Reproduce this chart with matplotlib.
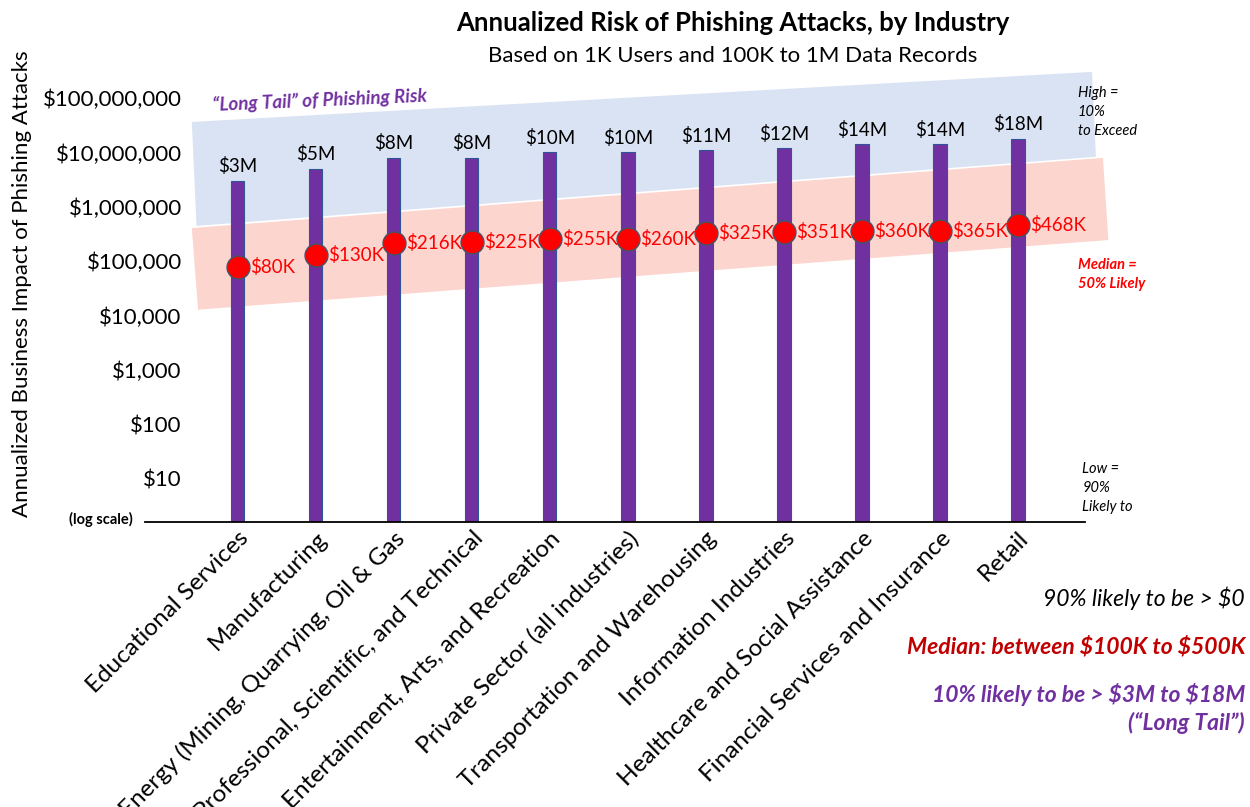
import numpy as np
import matplotlib.pyplot as plt
from matplotlib.patches import Polygon

plt.rcParams['font.family'] = ['Lato', 'DejaVu Sans']

industries = [
    'Educational Services',
    'Manufacturing',
    'Energy (Mining, Quarrying, Oil & Gas',
    'Professional, Scientific, and Technical',
    'Entertainment, Arts, and Recreation',
    'Private Sector (all industries)',
    'Transportation and Warehousing',
    'Information Industries',
    'Healthcare and Social Assistance',
    'Financial Services and Insurance',
    'Retail',
]
high_10pct = [3e6, 5e6, 8e6, 8e6, 10e6, 10e6, 11e6, 12e6, 14e6, 14e6, 18e6]
median_50pct = [80e3, 130e3, 216e3, 225e3, 255e3, 260e3, 325e3, 351e3, 360e3, 365e3, 468e3]
ytick_values = [10, 100, 1e3, 1e4, 1e5, 1e6, 1e7, 1e8]

PURPLE = '#7030A0'
RED = '#FF0000'
DARK_RED = '#C00000'


def fmt_money(v):
    if v >= 1e6:
        return '${:.0f}M'.format(v / 1e6)
    return '${:.0f}K'.format(v / 1e3)


fig = plt.figure(figsize=(12.5, 8.07), dpi=100)
ax = fig.add_axes([0.116, 0.3532, 0.752, 0.5725])
x = np.arange(len(industries))

ax.set_yscale('log')
ax.set_xlim(-1.19, 10.86)
ax.set_ylim(1.62, 5e8)

# shaded bands behind the bars (high tail and median zone)
blue_band = Polygon([(-0.59, 10**7.56), (10.95, 10**8.48), (11.0, 10**6.92), (-0.53, 10**5.65)],
                    closed=True, facecolor='#DAE3F3', edgecolor='none', zorder=0, clip_on=False)
pink_band = Polygon([(-0.59, 10**5.61), (11.09, 10**6.90), (11.16, 10**5.39), (-0.51, 10**4.11)],
                    closed=True, facecolor='#FCD5CE', edgecolor='none', zorder=0, clip_on=False)
ax.add_patch(blue_band)
ax.add_patch(pink_band)

ax.bar(x, high_10pct, width=0.17, log=True, color=PURPLE, edgecolor='#2F5597',
       linewidth=0.8, zorder=2)
ax.plot(x, median_50pct, 'o', markersize=16.5, color=RED, markeredgecolor='#44546A',
        markeredgewidth=1.0, zorder=3)

for xi, hv, mv in zip(x, high_10pct, median_50pct):
    ax.annotate(fmt_money(hv), (xi, hv), xytext=(0, 4), textcoords='offset points',
                ha='center', va='bottom', fontsize=13.5, color='black', parse_math=False)
    ax.annotate(fmt_money(mv), (xi, mv), xytext=(9, 0), textcoords='offset points',
                ha='left', va='center', fontsize=13.5, color=RED, parse_math=False)

ax.set_yticks(ytick_values)
ax.set_yticklabels(['${:,.0f}'.format(v) for v in ytick_values], fontsize=16)
ax.yaxis.set_minor_locator(plt.NullLocator())
ax.set_xticks(x)
ax.set_xticklabels(industries, rotation=45, ha='right', rotation_mode='anchor', fontsize=17.5)
ax.tick_params(axis='both', length=0)
ax.tick_params(axis='x', pad=4)
# labels sit over the left end of the axis line
ax.tick_params(axis='y', pad=-26.5)
for side in ['top', 'right', 'left']:
    ax.spines[side].set_visible(False)
ax.spines['bottom'].set_linewidth(1.3)

fig.text(0.018, 0.648, 'Annualized Business Impact of Phishing Attacks', rotation=90,
         ha='center', va='center', fontsize=16)

fig.text(0.586, 0.972, 'Annualized Risk of Phishing Attacks, by Industry',
         ha='center', va='center', fontsize=18.5, fontweight='bold')
fig.text(0.586, 0.930, 'Based on 1K Users and 100K to 1M Data Records',
         ha='center', va='center', fontsize=16)

fig.text(0.081, 0.356, '(log scale)', ha='center', va='center', fontsize=10.5, fontweight='bold')
fig.text(0.256, 0.876, '\u201cLong Tail\u201d of Phishing Risk', ha='center', va='center',
         fontsize=13.5, fontweight='bold', style='italic', color=PURPLE, rotation=2.5)

fig.text(0.862, 0.861, 'High =\n10%\nto Exceed', ha='left', va='center', fontsize=10.5,
         style='italic', linespacing=1.45)
fig.text(0.862, 0.660, 'Median =\n50% Likely', ha='left', va='center', fontsize=10.5,
         style='italic', fontweight='bold', color=RED, linespacing=1.45)
fig.text(0.866, 0.395, 'Low =\n90%\nLikely to', ha='left', va='center', fontsize=10.5,
         style='italic', linespacing=1.45)

fig.text(0.996, 0.259, '90% likely to be > $0', ha='right', va='center', fontsize=16.5,
         style='italic', parse_math=False)
fig.text(0.996, 0.198, 'Median: between $100K to $500K', ha='right', va='center',
         fontsize=16.5, style='italic', fontweight='bold', color=DARK_RED, parse_math=False)
fig.text(0.996, 0.122, '10% likely to be > $3M to $18M\n(\u201cLong Tail\u201d)', ha='right',
         va='center', fontsize=16.5, style='italic', fontweight='bold', color=PURPLE,
         multialignment='right', linespacing=1.3, parse_math=False)

fig.savefig('out.png', dpi=100)
